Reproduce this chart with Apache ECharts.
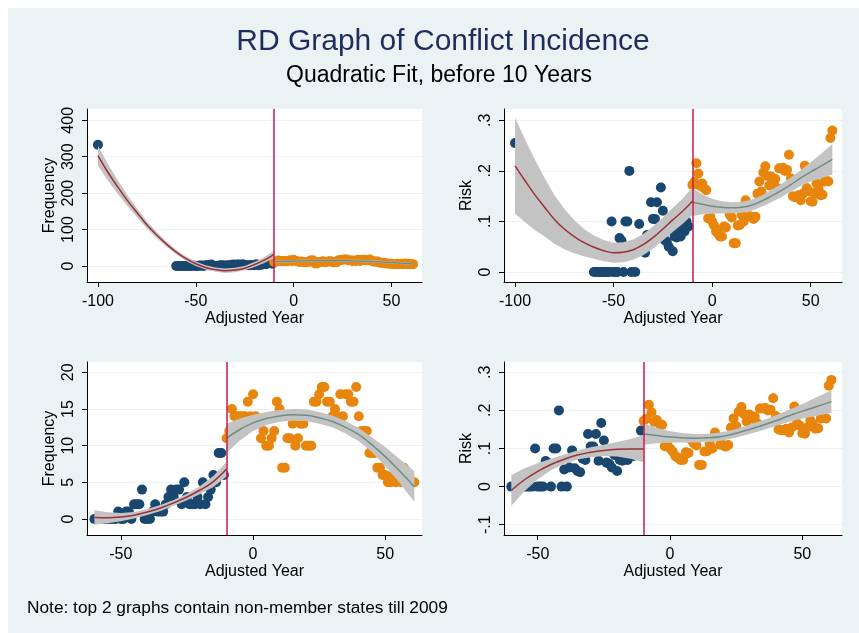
<!DOCTYPE html>
<html><head><meta charset="utf-8">
<script src="https://cdn.jsdelivr.net/npm/echarts@6.0.0/dist/echarts.min.js"></script>
<style>html,body{margin:0;padding:0;background:#fff}#c{width:859px;height:633px}</style>
</head><body><div id="c"></div>
<script>
// ---------- data ----------
const yearsBefore = [-60,-59,-58,-57,-56,-55,-54,-53,-52,-51,-50,-49,-48,-47,-46,-45,-44,-43,-42,-41,-40,-39,-38,-37,-36,-35,-34,-33,-32,-31,-30,-29,-28,-27,-26,-25,-24,-23,-22,-21,-20,-19,-18,-17,-16,-15,-14,-13,-12,-11];
const yearsAfter = [-10,-9,-8,-7,-6,-5,-4,-3,-2,-1,0,1,2,3,4,5,6,7,8,9,10,11,12,13,14,15,16,17,18,19,20,21,22,23,24,25,26,27,28,29,30,31,32,33,34,35,36,37,38,39,40,41,42,43,44,45,46,47,48,49,50,51,52,53,54,55,56,57,58,59,60,61];
const freqBefore = [0,0,0,0,0,0,0,0,0,1, 0,0,1,1,0,2,2,2,4,0, 0,0,1,2,1,1,1,2,3,4, 3,4,4,2,5,3,2,2,2,3, 2,5,2,3,4,6,5,9,9,6];
const freqAfter = [11,12,15,14,14,14,14,14,16,14, 17,14,13,11,12,10,10,11,12,16, 15,7,7,11,11,13,10,11,13,13, 10,10,10,16,16,17,18,18,16,16, 14,15,14,17,14,17,17,16,16,18, 14,12,12,12,9,9,9,7,7,6, 6,5,5,6,5,6,5,7,5,6, 5,5];
const riskBefore = [0,0,0,0,0,0,0,0,0,0.1, 0,0,0,0.067,0.062,0,0.1,0.1,0.2,0, 0.045,0,0.05,0.095,0.048,0.041,0.038,0.073,0.07,0.138, 0.105,0.105,0.138,0.068,0.167,0.121,0.063,0.06,0.05,0.083, 0.041,0.07,0.068,0.08,0.07,0.086,0.08,0.1,0.09,0.147];
const riskAfter = [0.172,0.178,0.215,0.195,0.17,0.175,0.165,0.162,0.106,0.11, 0.1,0.092,0.08,0.076,0.07,0.07,0.09,0.088,0.123,0.113, 0.108,0.057,0.057,0.092,0.093,0.113,0.1,0.142,0.13,0.11, 0.109,0.105,0.109,0.155,0.179,0.159,0.197,0.209,0.19,0.171, 0.189,0.179,0.184,0.166,0.205,0.205,0.206,0.2,0.202,0.232, 0.185,0.15,0.148,0.148,0.152,0.142,0.155,0.21,0.166,0.16, 0.14,0.139,0.156,0.175,0.165,0.152,0.153,0.179,0.18,0.179, 0.265,0.28];
const nonMemberYear = [-100];
const nonMemberFreq = [333];
const nonMemberRisk = [0.255];

// fitted curves and confidence bands
const fitXLong = [-100,-95,-90,-85,-80,-75,-70,-65,-60,-55,-50,-45,-40,-35,-30,-25,-20,-15,-10];
const fitXShort = [-60,-55,-50,-45,-40,-35,-30,-25,-20,-15,-10];
const fitXAfter = [-10,-5,0,5,10,15,20,25,30,35,40,45,50,55,61];

const tlFitL = [303,258,218,180,146,113,85,60,38,20,6,-4,-10,-13,-11,-6,4,16,32];
const tlLoL  = [276,235,199,165,134,103,77,53,32,14,0,-10,-16,-19,-17,-12,-3,8,22];
const tlHiL  = [330,281,237,195,158,123,93,67,44,26,12,2,-4,-7,-5,0,11,24,42];
const tlFitR = [12,12.8,13.4,13.9,14.2,14.4,14.4,14.2,13.9,13.3,12.4,11.2,9.6,7.8,5.2];
const tlLoR  = [9,9.8,10.4,10.9,11.2,11.4,11.4,11.2,10.9,10.3,9.4,8.2,6.6,4.8,2.2];
const tlHiR  = [15,15.8,16.4,16.9,17.2,17.4,17.4,17.2,16.9,16.3,15.4,14.2,12.6,10.8,8.2];

const trFitL = [0.21,0.181,0.153,0.128,0.104,0.085,0.07,0.058,0.049,0.042,0.038,0.039,0.044,0.054,0.068,0.085,0.103,0.12,0.14];
const trLoL  = [0.115,0.099,0.083,0.07,0.056,0.045,0.037,0.031,0.026,0.021,0.018,0.019,0.024,0.033,0.046,0.062,0.079,0.095,0.113];
const trHiL  = [0.305,0.263,0.223,0.186,0.152,0.125,0.103,0.085,0.072,0.063,0.058,0.059,0.064,0.075,0.09,0.108,0.127,0.145,0.167];
const riskFitR = [0.138,0.134,0.13,0.128,0.127,0.128,0.132,0.14,0.15,0.161,0.173,0.186,0.198,0.209,0.223];
const riskLoR  = [0.110,0.114,0.115,0.116,0.116,0.117,0.121,0.129,0.138,0.148,0.159,0.170,0.179,0.185,0.193];
const riskHiR  = [0.166,0.154,0.145,0.140,0.138,0.139,0.143,0.151,0.162,0.174,0.187,0.202,0.217,0.233,0.253];

const blFitL = [0.2,0.15,0.25,0.5,0.95,1.5,2.2,3.0,3.95,5.1,6.8];
const blLoL  = [-0.8,-0.6,-0.3,0.05,0.55,1.1,1.8,2.55,3.4,4.35,5.8];
const blHiL  = [1.2,0.9,0.8,0.95,1.35,1.9,2.6,3.45,4.5,5.85,7.8];
const blFitR = [11,12.2,13.1,13.7,14.05,14.2,14.15,13.8,13.3,12.5,11.5,10.1,8.5,6.7,4.4];
const blLoR  = [9,10.7,12,12.8,13.25,13.4,13.35,13,12.5,11.65,10.6,9.1,7.2,5.1,2.3];
const blHiR  = [13,13.7,14.2,14.6,14.85,15,14.95,14.6,14.1,13.35,12.4,11.1,9.8,8.3,6.5];

const brFitL = [-0.01,0.018,0.04,0.058,0.072,0.083,0.09,0.095,0.098,0.099,0.099];
const brLoL  = [-0.05,-0.012,0.019,0.043,0.06,0.071,0.077,0.08,0.079,0.073,0.064];
const brHiL  = [0.03,0.048,0.061,0.073,0.084,0.095,0.103,0.11,0.117,0.125,0.134];

const cutoff = -10;
const ticksXLong = [-100,-50,0,50];
const ticksXShort = [-50,0,50];
const ticksFreqTop = [0,100,200,300,400];
const ticksFreqBottom = [0,5,10,15,20];
const ticksRiskTop = [0,0.1,0.2,0.3];
const ticksRiskBottom = [-0.1,0,0.1,0.2,0.3];

// ---------- styling ----------
const FONT = "'Liberation Sans', Arial, sans-serif";
const BLUE = '#1a476f', ORANGE = '#e8850c', RED = '#9c2f3a', GREEN = '#6e8e84', BAND = '#c3c3c3', VLINE = '#c8184a';

const grids = [
  {left:87, top:109, width:335, height:173},
  {left:504, top:109, width:338, height:173},
  {left:87, top:362, width:335, height:173},
  {left:504, top:362, width:338, height:173}
].map(g => Object.assign({show:true, backgroundColor:'#ffffff', borderWidth:0}, g));

function riskFmt(v){ if (Math.abs(v) < 1e-9) return '0'; const s = String(Math.round(Math.abs(v)*10)/10).replace(/^0/, ''); return (v<0?'-':'') + s; }

function xAx(g, min, max, ticks){
  return {type:'value', gridIndex:g, min, max, position:'bottom',
    axisLine:{show:true, onZero:false, lineStyle:{color:'#000', width:1}},
    axisTick:{show:true, length:5, inside:false, customValues:ticks, lineStyle:{color:'#000'}},
    axisLabel:{customValues:ticks, fontSize:16, color:'#000', margin:12, fontFamily:FONT},
    splitLine:{show:false},
    name:'Adjusted Year', nameLocation:'middle', nameGap:29,
    nameTextStyle:{fontSize:16, color:'#000', fontFamily:FONT}};
}
function yAx(g, min, max, ticks, name, fmt){
  return {type:'value', gridIndex:g, min, max, position:'left',
    axisLine:{show:true, onZero:false, lineStyle:{color:'#000', width:1}},
    axisTick:{show:true, length:5, inside:false, customValues:ticks, lineStyle:{color:'#000'}},
    axisLabel:{customValues:ticks, fontSize:16, color:'#000', margin:10, rotate:90, fontFamily:FONT, formatter:fmt},
    splitLine:{show:true, lineStyle:{color:'#eaf2f3', width:1}},
    name:name, nameLocation:'middle', nameGap:29,
    nameTextStyle:{fontSize:16, color:'#000', fontFamily:FONT}};
}

function pairs(xs, ys){ return xs.map((x,i)=>[x, ys[i]]); }

function scatter(g, data, color){
  return {type:'scatter', xAxisIndex:g, yAxisIndex:g, data, symbolSize:10, z:2, silent:true,
    itemStyle:{color, opacity:1}};
}
function band(g, xs, lo, hi){
  return {type:'custom', xAxisIndex:g, yAxisIndex:g, z:3, silent:true,
    data: xs.map((x,i)=>[x, lo[i], hi[i]]), encode:{x:0, y:[1,2]},
    renderItem: function(params, api){
      if (params.dataIndex !== 0) return null;
      const pts = [];
      for (let i=0;i<xs.length;i++) pts.push(api.coord([xs[i], hi[i]]));
      for (let i=xs.length-1;i>=0;i--) pts.push(api.coord([xs[i], lo[i]]));
      return {type:'polygon', shape:{points:pts}, style:{fill:BAND}};
    }};
}
function fitLine(g, xs, ys, color){
  return {type:'line', xAxisIndex:g, yAxisIndex:g, data:pairs(xs, ys), smooth:0.4,
    symbol:'none', showSymbol:false, z:4, silent:true, lineStyle:{color, width:1.5}};
}
function cutLine(g){
  return {type:'line', xAxisIndex:g, yAxisIndex:g, data:[], z:5, silent:true,
    markLine:{silent:true, symbol:['none','none'], label:{show:false},
      lineStyle:{color:VLINE, width:1.5, type:'solid'}, data:[{xAxis:cutoff}]}};
}

const series = [
  // top-left
  scatter(0, pairs(nonMemberYear, nonMemberFreq).concat(pairs(yearsBefore, freqBefore)), BLUE),
  scatter(0, pairs(yearsAfter, freqAfter), ORANGE),
  band(0, fitXLong, tlLoL, tlHiL), band(0, fitXAfter, tlLoR, tlHiR),
  fitLine(0, fitXLong, tlFitL, RED), fitLine(0, fitXAfter, tlFitR, GREEN),
  cutLine(0),
  // top-right
  scatter(1, pairs(nonMemberYear, nonMemberRisk).concat(pairs(yearsBefore, riskBefore)), BLUE),
  scatter(1, pairs(yearsAfter, riskAfter), ORANGE),
  band(1, fitXLong, trLoL, trHiL), band(1, fitXAfter, riskLoR, riskHiR),
  fitLine(1, fitXLong, trFitL, RED), fitLine(1, fitXAfter, riskFitR, GREEN),
  cutLine(1),
  // bottom-left
  scatter(2, pairs(yearsBefore, freqBefore), BLUE),
  scatter(2, pairs(yearsAfter, freqAfter), ORANGE),
  band(2, fitXShort, blLoL, blHiL), band(2, fitXAfter, blLoR, blHiR),
  fitLine(2, fitXShort, blFitL, RED), fitLine(2, fitXAfter, blFitR, GREEN),
  cutLine(2),
  // bottom-right
  scatter(3, pairs(yearsBefore, riskBefore), BLUE),
  scatter(3, pairs(yearsAfter, riskAfter), ORANGE),
  band(3, fitXShort, brLoL, brHiL), band(3, fitXAfter, riskLoR, riskHiR),
  fitLine(3, fitXShort, brFitL, RED), fitLine(3, fitXAfter, riskFitR, GREEN),
  cutLine(3)
];

const chart = echarts.init(document.getElementById('c'), null, {renderer:'canvas'});
chart.setOption({
  animation:false,
  backgroundColor:'#eaf2f3',
  textStyle:{fontFamily:FONT},
  title:[
    {text:'RD Graph of Conflict Incidence', left:443, top:27, textAlign:'center', padding:0,
      textStyle:{fontSize:30, fontWeight:'normal', color:'#1f2d5c', fontFamily:FONT}},
    {text:'Quadratic Fit, before 10 Years', left:439, top:64, textAlign:'center', padding:0,
      textStyle:{fontSize:23, fontWeight:'normal', color:'#000', fontFamily:FONT}},
    {text:'Note: top 2 graphs contain non-member states till 2009', left:27, top:600, padding:0,
      textStyle:{fontSize:17.3, fontWeight:'normal', color:'#000', fontFamily:FONT}}
  ],
  graphic:[
    {type:'rect', shape:{x:0,y:0,width:859,height:8}, style:{fill:'#ffffff'}, silent:true},
    {type:'rect', shape:{x:0,y:0,width:8,height:633}, style:{fill:'#ffffff'}, silent:true}
  ],
  grid: grids,
  xAxis:[
    xAx(0, -105.6, 65.6, ticksXLong),
    xAx(1, -105.6, 65.9, ticksXLong),
    xAx(2, -62.8, 63.9, ticksXShort),
    xAx(3, -62.75, 65, ticksXShort)
  ],
  yAxis:[
    yAx(0, -44, 431, ticksFreqTop, 'Frequency', v => String(v)),
    yAx(1, -0.0199, 0.3225, ticksRiskTop, 'Risk', riskFmt),
    yAx(2, -2.19, 21.41, ticksFreqBottom, 'Frequency', v => String(v)),
    yAx(3, -0.127, 0.327, ticksRiskBottom, 'Risk', riskFmt)
  ],
  series: series
});
</script></body></html>
